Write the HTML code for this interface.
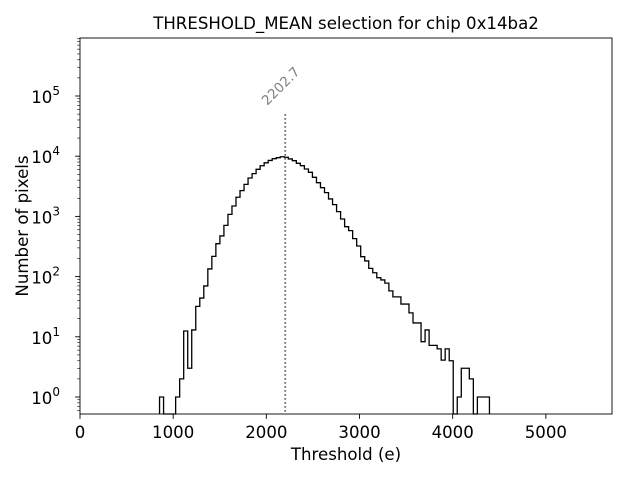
<!DOCTYPE html>
<html><head><meta charset="utf-8"><style>
body{margin:0;background:#fff;}
svg text{font-family:"DejaVu Sans","Liberation Sans",sans-serif;}
</style></head><body>
<svg id="chart" width="640" height="480" viewBox="0 0 640 480" xmlns="http://www.w3.org/2000/svg">
<rect width="640" height="480" fill="#fff"/>
<text x="346" y="29" font-size="16.6" text-anchor="middle">THRESHOLD_MEAN selection for chip 0x14ba2</text>
<text x="346" y="460" font-size="16.6" text-anchor="middle">Threshold (e)</text>
<text x="28" y="226" font-size="16.6" text-anchor="middle" transform="rotate(-90 28 226)">Number of pixels</text>
<g id="marks"></g>
<g id="axes"></g>
</svg>
<script>
const binStart = 853.8;
const binWidth = 43.18;
const counts = [1,0,0,0,1,2,12.5,3,13,32,44,70,134,217,352,474,710,1080,1490,2080,2680,3400,4340,5130,6060,6950,7770,8510,9090,9440,9800,
9600,9000,8430,7620,6960,6130,5400,4460,3630,3000,2480,1950,1570,1200,905,675,580,427,322,214,182,137,116,96,
88,78,58,46,46,35,35,25,17,17,8.3,13,7.2,7.2,6.3,4.1,6.3,4,0,1,3,3,2,0,1,1,1];
const meanValue = 2202.7;
const xTicks = [0,1000,2000,3000,4000,5000];
const yTickExps = [0,1,2,3,4,5];

const X0=80,X1=612,Y0=38,Y1=414;
const xs = v => 80 + v*0.09317;
const ys = v => 397 - 60.2*Math.log10(v);
const NS="http://www.w3.org/2000/svg";
const marks=document.getElementById('marks'), axes=document.getElementById('axes');
function mk(tag,attrs,parent){const e=document.createElementNS(NS,tag);for(const k in attrs)e.setAttribute(k,attrs[k]);parent.appendChild(e);return e;}

let d='';
for(let i=0;i<counts.length;i++){
  const xa=xs(binStart+i*binWidth), xb=xs(binStart+(i+1)*binWidth);
  const yv = counts[i]>0 ? ys(counts[i]) : Y1;
  if(i===0) d+=`M${xa},${Y1}`;
  d+=`L${xa},${yv}L${xb},${yv}`;
}
d+=`L${xs(binStart+counts.length*binWidth)},${Y1}`;
const hist=mk('path',{d:d,fill:'none',stroke:'#000','stroke-width':1.3,'stroke-linejoin':'miter'},marks);



const mx=xs(meanValue);
const ml=mk('line',{x1:mx,x2:mx,y1:114,y2:Y1,stroke:'#707070','stroke-width':1.8,'stroke-dasharray':'1.8,2.2'},marks);


const mlab=mk('text',{x:mx-18,y:106,'font-size':13.5,fill:'#808080','text-anchor':'start',transform:`rotate(-45 ${mx-18} 106)`},marks);
mlab.textContent=meanValue.toFixed(1);



const fr=mk('rect',{x:X0,y:Y0,width:X1-X0,height:Y1-Y0,fill:'none',stroke:'#000','stroke-width':0.9},axes);



xTicks.forEach(t=>{
  const x=xs(t);
  mk('line',{x1:x,x2:x,y1:Y1,y2:Y1+4.9,stroke:'#000','stroke-width':0.9},axes);
  const tx=mk('text',{x:x,y:438,'font-size':16.6,'text-anchor':'middle'},axes);
  tx.textContent=t;
  
  
});
for(let e=-1;e<=5;e++){
  for(let m=2;m<=9;m++){
    const v=m*Math.pow(10,e); const y=ys(v);
    if(y<Y0||y>Y1) continue;
    mk('line',{x1:X0-2.8,x2:X0,y1:y,y2:y,stroke:'#000','stroke-width':0.6},axes);
  }
}
yTickExps.forEach(e=>{
  const y=ys(Math.pow(10,e));
  mk('line',{x1:X0-4.9,x2:X0,y1:y,y2:y,stroke:'#000','stroke-width':0.9},axes);
  const tx=mk('text',{x:60,y:y+7,'font-size':16.6,'text-anchor':'end'},axes);
  tx.textContent='10';
  const sup=mk('tspan',{dy:-8,'font-size':12},tx);
  sup.textContent=e;
  
  
});
</script>
</body></html>
